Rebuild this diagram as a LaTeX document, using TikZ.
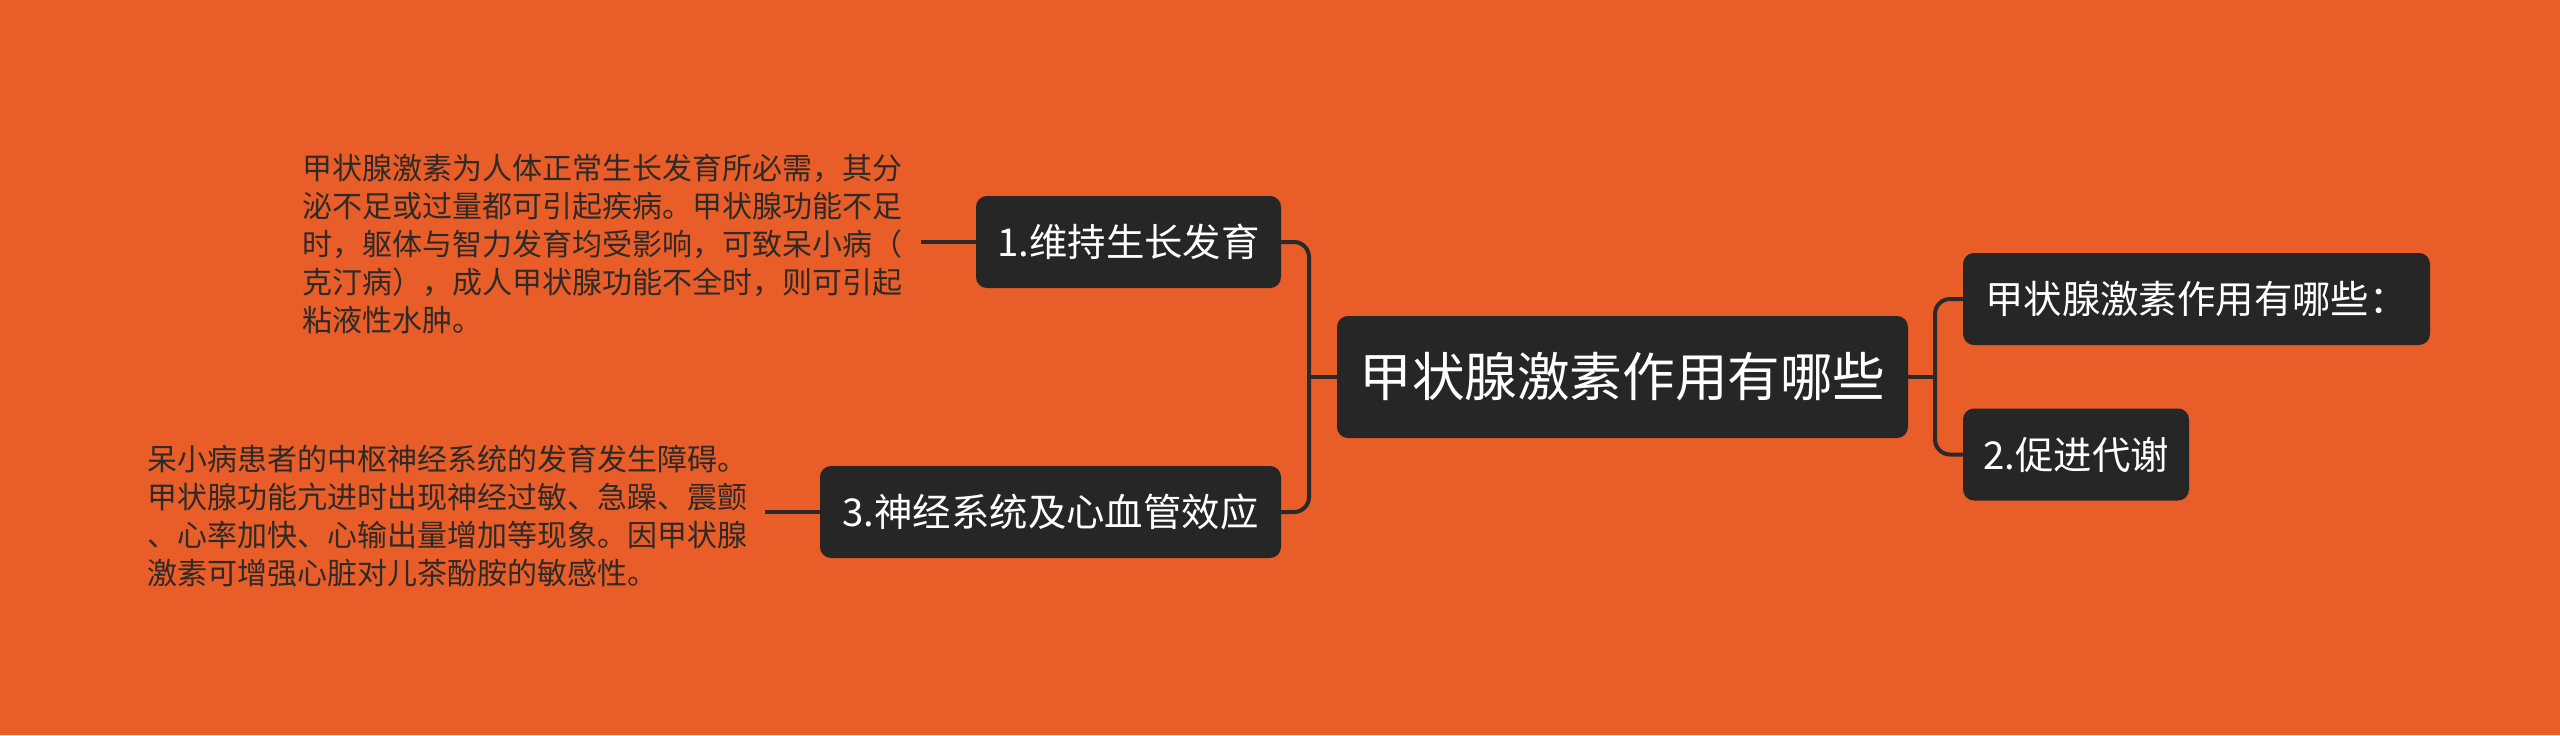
\documentclass[tikz,border=0pt]{standalone}
\usepackage{fontspec}
\setmainfont{Noto Sans CJK SC}
\definecolor{bg}{HTML}{E95D29}
\definecolor{boxfill}{HTML}{262626}
\definecolor{linec}{HTML}{2A2A2A}
\definecolor{desc}{HTML}{2E2A28}
\tikzset{
  topic/.style={draw=boxfill, line width=1pt, fill=boxfill, rounded corners=5pt, text=white, inner sep=0pt, align=center},
  maintopic/.style={topic, font=\fontsize{26.3pt}{30pt}\selectfont, minimum width=284.5pt, minimum height=60pt},
  subtopic/.style={topic, font=\fontsize{19.2pt}{22pt}\selectfont, minimum height=45pt},
  note/.style={text=desc, font=\fontsize{15pt}{19pt}\selectfont, align=left, inner sep=0pt},
  conn/.style={draw=linec, line width=2pt, rounded corners=7.5pt}
}
\begin{document}
\begin{tikzpicture}[x=0.5pt,y=-0.5pt]
\fill[bg] (0,0) rectangle (2560,735);
\useasboundingbox (0,0) rectangle (2560,735);

\node[maintopic] (c) at (1622.5,377) {甲状腺激素作用有哪些};
\node[subtopic, minimum width=232.5pt] (rt) at (2196.5,299) {甲状腺激素作用有哪些：};
\node[subtopic, minimum width=112pt] (rb) at (2076,454.5) {2.促进代谢};
\node[subtopic, minimum width=151.5pt] (lt) at (1128.5,242) {1.维持生长发育};
\node[subtopic, minimum width=229.5pt] (lb) at (1050.5,512) {3.神经系统及心血管效应};

\node[note, anchor=west] (t1) at (302,244) {甲状腺激素为人体正常生长发育所必需，其分\\泌不足或过量都可引起疾病。甲状腺功能不足\\时，躯体与智力发育均受影响，可致呆小病（\\克汀病），成人甲状腺功能不全时，则可引起\\粘液性水肿。};
\node[note, anchor=west] (t2) at (147,516) {呆小病患者的中枢神经系统的发育发生障碍。\\甲状腺功能亢进时出现神经过敏、急躁、震颤\\、心率加快、心输出量增加等现象。因甲状腺\\激素可增强心脏对儿茶酚胺的敏感性。};

\coordinate (rmid) at (1935,377);
\coordinate (lmid) at (1309,377);
\coordinate (e1) at (921,242);
\coordinate (e2) at (765,512);

\draw[conn] (c.east) -- (rmid);
\draw[conn] (rt.west) -| (rmid) |- (rb.west);
\draw[conn] (c.west) -- (lmid);
\draw[conn] (lt.east) -| (lmid) |- (lb.east);
\draw[conn] (lt.west) -- (e1);
\draw[conn] (lb.west) -- (e2);
\end{tikzpicture}
\end{document}
